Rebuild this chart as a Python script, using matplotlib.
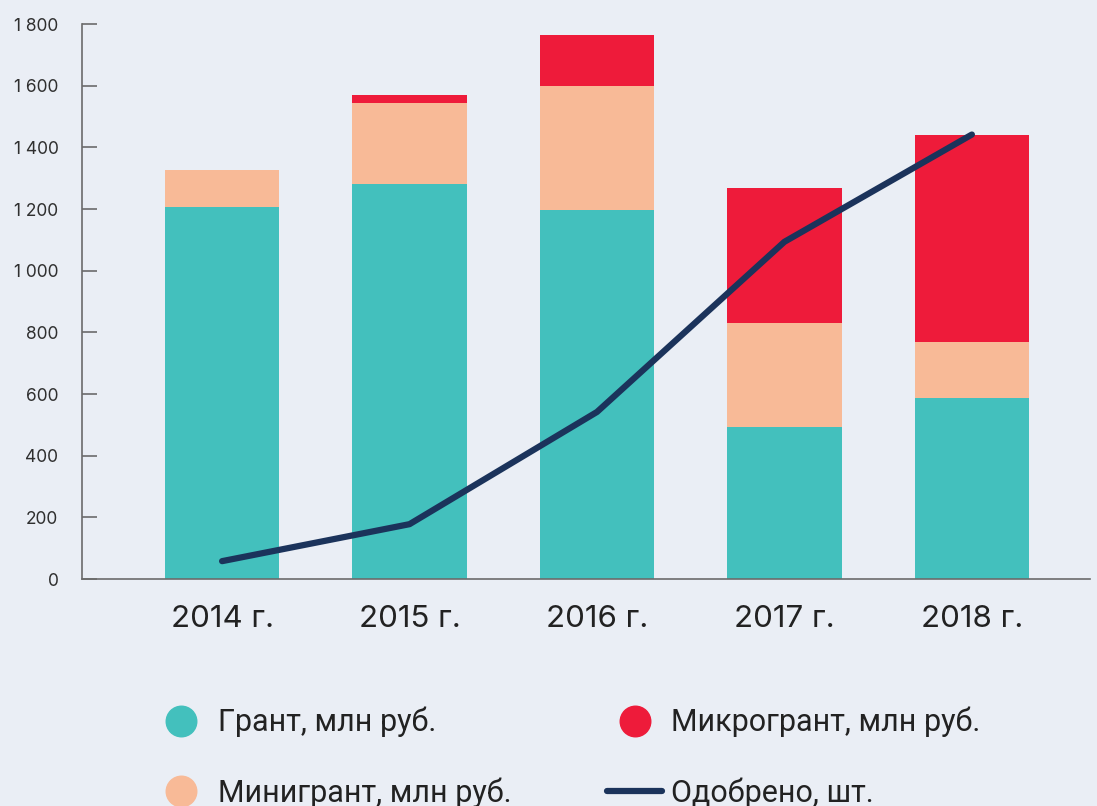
import numpy as np
import matplotlib
matplotlib.use("Agg")
from matplotlib import pyplot as plt
from matplotlib.lines import Line2D

years = ["2014 г.", "2015 г.", "2016 г.", "2017 г.", "2018 г."]
grant = [1206, 1281, 1197, 493, 587]
minigrant = [120, 263, 402, 338, 182]
microgrant = [0, 26, 165, 437, 671]
approved = [58, 178, 542, 1094, 1442]
yticks = [0, 200, 400, 600, 800, 1000, 1200, 1400, 1600, 1800]

BG = "#EAEEF5"
TEAL = "#43C0BD"
PEACH = "#F8BA97"
RED = "#EE1B3A"
NAVY = "#1B335B"

plt.rcParams["font.family"] = ["Inter", "DejaVu Sans"]

fig = plt.figure(figsize=(10.97, 8.06), dpi=100, facecolor=BG)
ax = fig.add_axes([0.0748, 0.2816, 0.9188, 0.6884], facecolor=BG)

x = np.arange(len(years))
w = 0.61
grant = np.array(grant)
minigrant = np.array(minigrant)
microgrant = np.array(microgrant)
ax.bar(x, grant, w, color=TEAL, zorder=2)
ax.bar(x, minigrant, w, bottom=grant, color=PEACH, zorder=2)
ax.bar(x, microgrant, w, bottom=grant + minigrant, color=RED, zorder=2)
ax.plot(x, approved, color=NAVY, lw=4.5, solid_capstyle="round",
        solid_joinstyle="round", zorder=3)

ax.set_xlim(-0.747, 4.63)
ax.set_ylim(0, 1800)
ax.set_yticks(yticks)
ax.set_yticklabels([f"{v:,}".replace(",", " ") for v in yticks])
ax.set_xticks(x)
ax.set_xticklabels(years)

for s in ["top", "right"]:
    ax.spines[s].set_visible(False)
for s in ["left", "bottom"]:
    ax.spines[s].set_color("#6b6b6b")
    ax.spines[s].set_linewidth(1.2)

ax.tick_params(axis="y", direction="in", length=11, width=1.2, color="#6b6b6b",
               labelsize=12.5, labelcolor="#2f2f2f", pad=17)
ax.tick_params(axis="x", length=0, labelsize=22.5, labelcolor="#222222", pad=19)

handles = [
    Line2D([], [], ls="none", marker="o", ms=22, color=TEAL),
    Line2D([], [], ls="none", marker="o", ms=22, color=PEACH),
    Line2D([], [], ls="none", marker="o", ms=22, color=RED),
    Line2D([], [], color=NAVY, lw=4.5, solid_capstyle="round"),
]
labels = ["Грант, млн руб.", "Минигрант, млн руб.",
          "Микрогрант, млн руб.", "Одобрено, шт."]
fig.legend(handles, labels, ncol=2, loc="lower left",
           bbox_to_anchor=(0.115, -0.036), frameon=False,
           prop={"family": ["Roboto", "DejaVu Sans"], "size": 22},
           handlelength=1.8, handletextpad=0.3, columnspacing=3.13,
           labelspacing=1.3, labelcolor="#222222")

fig.savefig("out.png", dpi=100, facecolor=BG)
